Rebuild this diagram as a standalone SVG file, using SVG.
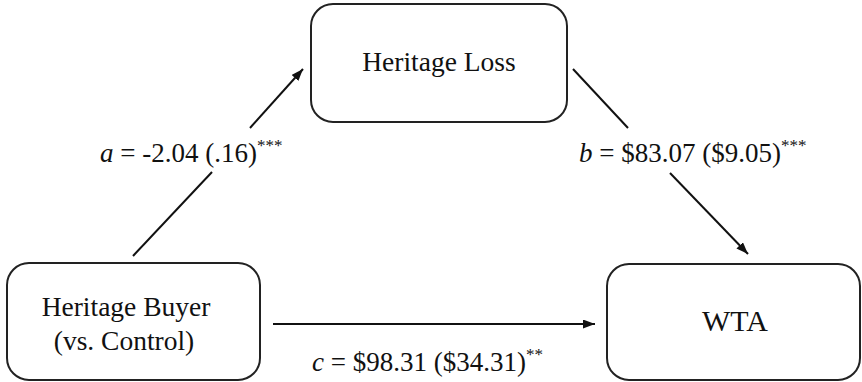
<svg xmlns="http://www.w3.org/2000/svg" width="862" height="382" viewBox="0 0 862 382">
<style>
.box{fill:#fff;stroke:#222;stroke-width:2}
.t{font-family:"Liberation Serif","Times New Roman",serif;fill:#111}
.n{font-size:27.5px}
.lab{font-size:27px}
.st{font-size:17px}
.line{stroke:#111;stroke-width:2;fill:none}
</style>
<defs>
<marker id="ah" markerUnits="userSpaceOnUse" markerWidth="13" markerHeight="10" refX="12" refY="4.5" orient="auto">
<path d="M0,0 L12,4.5 L0,9 Z" fill="#111"/>
</marker>
</defs>
<rect width="862" height="382" fill="#fff"/>
<g id="connectors">
<line class="line" x1="133" y1="256" x2="212" y2="172"/>
<line class="line" x1="250" y1="128" x2="303" y2="69" marker-end="url(#ah)"/>
<line class="line" x1="573" y1="69" x2="628" y2="128"/>
<line class="line" x1="670" y1="173" x2="748" y2="254" marker-end="url(#ah)"/>
<line class="line" x1="273" y1="324" x2="595" y2="324" marker-end="url(#ah)"/>
<text class="t lab" x="100" y="162"><tspan font-style="italic">a</tspan> = -2.04 (.16)<tspan class="st" dy="-11">***</tspan></text>
<text class="t lab" x="579" y="162"><tspan font-style="italic">b</tspan> = $83.07 ($9.05)<tspan class="st" dy="-11">***</tspan></text>
<text class="t lab" x="312" y="371"><tspan font-style="italic">c</tspan> = $98.31 ($34.31)<tspan class="st" dy="-11">**</tspan></text>
</g>
<g id="heritage-loss">
<rect class="box" x="311" y="4" width="256" height="118" rx="22"/>
<text class="t n" x="439" y="71" text-anchor="middle">Heritage Loss</text>
</g>
<g id="heritage-buyer">
<rect class="box" x="7" y="263" width="253" height="117" rx="22"/>
<text class="t n" x="126" y="316" text-anchor="middle">Heritage Buyer</text>
<text class="t n" x="124" y="350" text-anchor="middle">(vs. Control)</text>
</g>
<g id="wta">
<rect class="box" x="607" y="264" width="253" height="116" rx="22"/>
<text class="t" font-size="30" x="735" y="331" text-anchor="middle">WTA</text>
</g>
</svg>
